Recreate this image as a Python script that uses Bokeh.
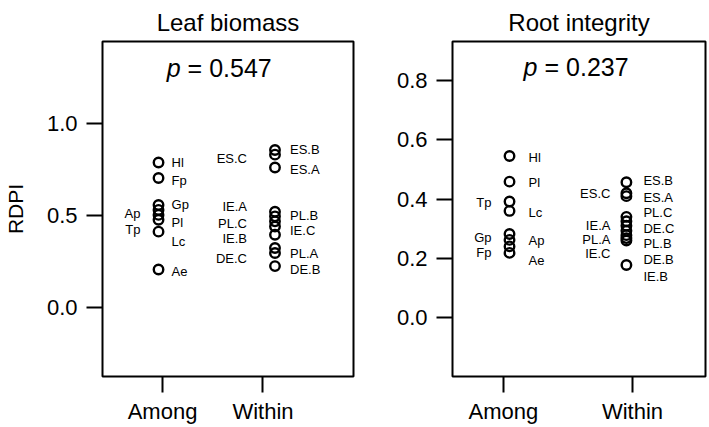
from bokeh.plotting import figure
from bokeh.models import ColumnDataSource, FixedTicker, Label, PrintfTickFormatter, Range1d
from bokeh.layouts import row
from bokeh.embed import file_html
from bokeh.resources import INLINE
from bokeh.core.properties import value

FONT = "Liberation Sans"
INK = "black"

groups = ["Among", "Within"]

# ---- Leaf biomass ----
leaf_among_names = ["Hl", "Fp", "Gp", "Ap", "Pl", "Tp", "Lc", "Ae"]
leaf_among_vals = [0.787, 0.703, 0.557, 0.530, 0.503, 0.477, 0.412, 0.207]
leaf_among_lab_y = [0.787, 0.689, 0.559, 0.510, 0.462, 0.425, 0.359, 0.194]
leaf_among_side = ["R", "R", "R", "L", "R", "L", "R", "R"]

leaf_within_names = ["ES.B", "ES.C", "ES.A", "IE.A", "PL.B", "PL.C", "IE.C", "IE.B", "PL.A", "DE.C", "DE.B"]
leaf_within_vals = [0.855, 0.830, 0.760, 0.520, 0.495, 0.468, 0.440, 0.395, 0.323, 0.296, 0.225]
leaf_within_lab_y = [0.859, 0.809, 0.748, 0.550, 0.502, 0.457, 0.416, 0.373, 0.291, 0.269, 0.207]
leaf_within_side = ["R", "L", "R", "L", "R", "L", "R", "L", "R", "L", "R"]

# ---- Root integrity ----
root_among_names = ["Hl", "Pl", "Tp", "Lc", "Gp", "Ap", "Fp", "Ae"]
root_among_vals = [0.546, 0.459, 0.392, 0.360, 0.282, 0.262, 0.240, 0.218]
root_among_lab_y = [0.540, 0.457, 0.388, 0.353, 0.271, 0.260, 0.218, 0.193]
root_among_side = ["R", "R", "L", "R", "L", "R", "L", "R"]

root_within_names = ["ES.B", "ES.C", "ES.A", "PL.C", "IE.A", "DE.C", "PL.A", "PL.B", "IE.C", "DE.B", "IE.B"]
root_within_vals = [0.457, 0.420, 0.410, 0.340, 0.325, 0.310, 0.293, 0.278, 0.268, 0.260, 0.177]
root_within_lab_y = [0.462, 0.418, 0.407, 0.353, 0.312, 0.301, 0.264, 0.249, 0.216, 0.196, 0.137]
root_within_side = ["R", "L", "R", "R", "L", "R", "L", "R", "L", "R", "R"]

leaf_ticks = [0.0, 0.5, 1.0]
root_ticks = [0.0, 0.2, 0.4, 0.6, 0.8]
leaf_p = "0.547"
root_p = "0.237"


def add_group(p, gx, names, vals, lab_y, side, r_off, l_off):
    xs = [gx] * len(vals)
    p.scatter(x=xs, y=vals, size=9.5, marker="circle", fill_color=None,
              line_color=INK, line_width=2.4)
    for s, off, align in (("R", r_off, "left"), ("L", l_off, "right")):
        idx = [i for i, sd in enumerate(side) if sd == s]
        if not idx:
            continue
        src = ColumnDataSource(dict(x=[gx] * len(idx), y=[lab_y[i] for i in idx],
                                    t=[names[i] for i in idx]))
        p.text(x="x", y="y", text="t", source=src, x_offset=off,
               text_align=align, text_baseline="middle",
               text_font=value(FONT), text_font_size="13px", text_color=INK)


def make_panel(title, width, mb_left, mb_right, xr, yr, ticks, title_offset, ylabel):
    p = figure(width=width, height=426, output_backend="svg", toolbar_location=None,
               x_range=Range1d(*xr), y_range=Range1d(*yr),
               min_border_left=mb_left, min_border_right=mb_right,
               min_border_top=37, min_border_bottom=49)
    p.title.text = title
    p.title.align = "center"
    p.title.offset = title_offset
    p.title.text_font = FONT
    p.title.text_font_size = "24px"
    p.title.text_font_style = "normal"
    p.title.text_color = INK
    p.title.standoff = 12
    p.grid.visible = False
    p.outline_line_color = INK
    p.outline_line_width = 2
    p.outline_line_alpha = 1
    for ax in (p.xaxis[0], p.yaxis[0]):
        ax.axis_line_color = None
        ax.major_tick_in = 0
        ax.major_tick_out = 16
        ax.major_tick_line_width = 2
        ax.major_tick_line_color = INK
        ax.minor_tick_line_color = None
        ax.major_label_text_font = FONT
        ax.major_label_text_font_size = "22px"
        ax.major_label_text_color = INK
    p.xaxis.ticker = FixedTicker(ticks=[1, 2])
    p.xaxis.major_label_overrides = {1: groups[0], 2: groups[1]}
    p.xaxis.major_label_standoff = 6
    p.yaxis.ticker = FixedTicker(ticks=ticks)
    p.yaxis.formatter = PrintfTickFormatter(format="%.1f")
    p.yaxis.major_label_standoff = 9
    if ylabel:
        p.yaxis.axis_label = ylabel
        p.yaxis.axis_label_text_font = FONT
        p.yaxis.axis_label_text_font_size = "21px"
        p.yaxis.axis_label_text_font_style = "normal"
        p.yaxis.axis_label_text_color = INK
        p.yaxis.axis_label_standoff = 17
    return p


def add_p(p, x, y, num):
    p.add_layout(Label(x=x, y=y, text="p", text_align="right", text_baseline="middle",
                       text_font=FONT, text_font_size="25px", text_font_style="italic",
                       text_color=INK))
    p.add_layout(Label(x=x, y=y, x_offset=7, text="= " + num, text_align="left",
                       text_baseline="middle", text_font=FONT, text_font_size="25px",
                       text_color=INK))


p1 = make_panel("Leaf biomass", 393, 98, 40, (0.402, 2.902), (-0.374, 1.444),
                leaf_ticks, -4, "RDPI")
add_group(p1, 0.96, leaf_among_names, leaf_among_vals, leaf_among_lab_y, leaf_among_side, 13, -18)
add_group(p1, 2.12, leaf_within_names, leaf_within_vals, leaf_within_lab_y, leaf_within_side, 15, -28)
add_p(p1, 1.18, 1.30, leaf_p)

p2 = make_panel("Root integrity", 315, 59, 3, (0.605, 2.566), (-0.2, 0.933),
                root_ticks, -11, None)
add_group(p2, 1.047, root_among_names, root_among_vals, root_among_lab_y, root_among_side, 19, -18)
add_group(p2, 1.953, root_within_names, root_within_vals, root_within_lab_y, root_within_side, 17, -16)
add_p(p2, 1.264, 0.847, root_p)

layout = row(p1, p2)
open("out.html", "w").write(file_html(layout, INLINE))
